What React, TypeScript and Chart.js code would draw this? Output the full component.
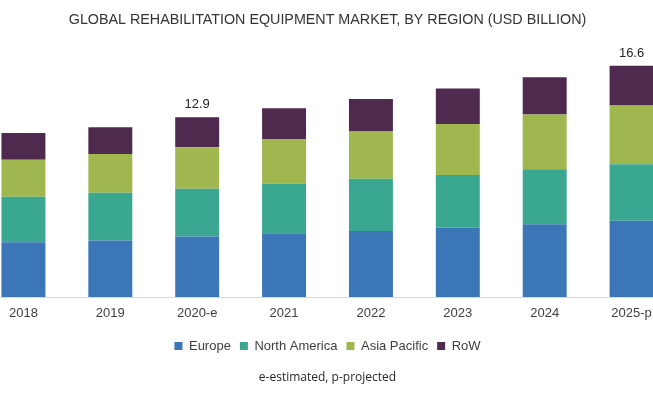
import React, { useEffect, useRef } from "react";
import { Chart, registerables } from "chart.js";

Chart.register(...registerables);

const categories = ["2018", "2019", "2020-e", "2021", "2022", "2023", "2024", "2025-p"];
const europe = [3.92, 4.06, 4.34, 4.57, 4.74, 4.99, 5.22, 5.48];
const northAmerica = [3.28, 3.42, 3.42, 3.58, 3.75, 3.77, 3.95, 4.04];
const asiaPacific = [2.64, 2.78, 2.99, 3.18, 3.39, 3.65, 3.92, 4.22];
const row = [1.92, 1.92, 2.14, 2.21, 2.33, 2.56, 2.68, 2.85];
const totalLabels = ["", "", "12.9", "", "", "", "", "16.6"];

const totalsPlugin = {
  id: "totals",
  afterDatasetsDraw(chart: any) {
    const ctx = chart.ctx;
    const lastMeta = chart.getDatasetMeta(chart.data.datasets.length - 1);
    ctx.save();
    ctx.font = "13px 'Liberation Sans', Arial, sans-serif";
    ctx.fillStyle = "#262626";
    ctx.textAlign = "center";
    ctx.textBaseline = "bottom";
    totalLabels.forEach((t, i) => {
      if (!t) return;
      const el = lastMeta.data[i];
      ctx.fillText(t, el.x, el.y - 6);
    });
    ctx.restore();
  },
};

export default function App() {
  const ref = useRef<HTMLCanvasElement>(null);
  useEffect(() => {
    const chart = new Chart(ref.current!, {
      type: "bar",
      data: {
        labels: categories,
        datasets: [
          { label: "Europe", data: europe, backgroundColor: "#3b77b7" },
          { label: "North America", data: northAmerica, backgroundColor: "#3aa891" },
          { label: "Asia Pacific", data: asiaPacific, backgroundColor: "#a0b750" },
          { label: "RoW", data: row, backgroundColor: "#4e2a4f" },
        ],
      },
      options: {
        responsive: false,
        animation: false,
        layout: { padding: { left: 0, right: 0, top: 0, bottom: 0 } },
        datasets: { bar: { barPercentage: 0.506, categoryPercentage: 1 } },
        scales: {
          x: {
            stacked: true,
            grid: { drawOnChartArea: false, drawTicks: false },
            border: { color: "#d9d9d9", width: 1 },
            ticks: {
              color: "#404040",
              padding: 9,
              font: { family: "'Liberation Sans', Arial, sans-serif", size: 13 },
            },
          },
          y: { stacked: true, display: false, min: 0, max: 18 },
        },
        plugins: {
          title: {
            display: true,
            text: "GLOBAL REHABILITATION EQUIPMENT MARKET, BY REGION (USD BILLION)",
            color: "#333333",
            font: { family: "'Liberation Sans', Arial, sans-serif", size: 14.3, weight: "normal" },
            padding: { top: 11, bottom: 18 },
          },
          legend: {
            position: "bottom",
            labels: {
              boxWidth: 8,
              boxHeight: 8,
              padding: 9,
              color: "#404040",
              font: { family: "'Liberation Sans', Arial, sans-serif", size: 13 },
            },
          },
          subtitle: {
            display: true,
            position: "bottom",
            text: "e-estimated, p-projected",
            color: "#262626",
            font: { family: "'Open Sans', sans-serif", size: 12 },
            padding: { top: 8, bottom: 8 },
          },
          tooltip: { enabled: false },
        },
      },
      plugins: [totalsPlugin],
    });
    return () => chart.destroy();
  }, []);
  return (
    <div style={{ position: "fixed", left: 0, top: 0, width: 653, height: 393, overflow: "hidden", background: "#fff" }}>
      <div style={{ position: "absolute", left: -20, top: 0 }}>
        <canvas ref={ref} width={695} height={393} style={{ display: "block" }} />
      </div>
    </div>
  );
}
